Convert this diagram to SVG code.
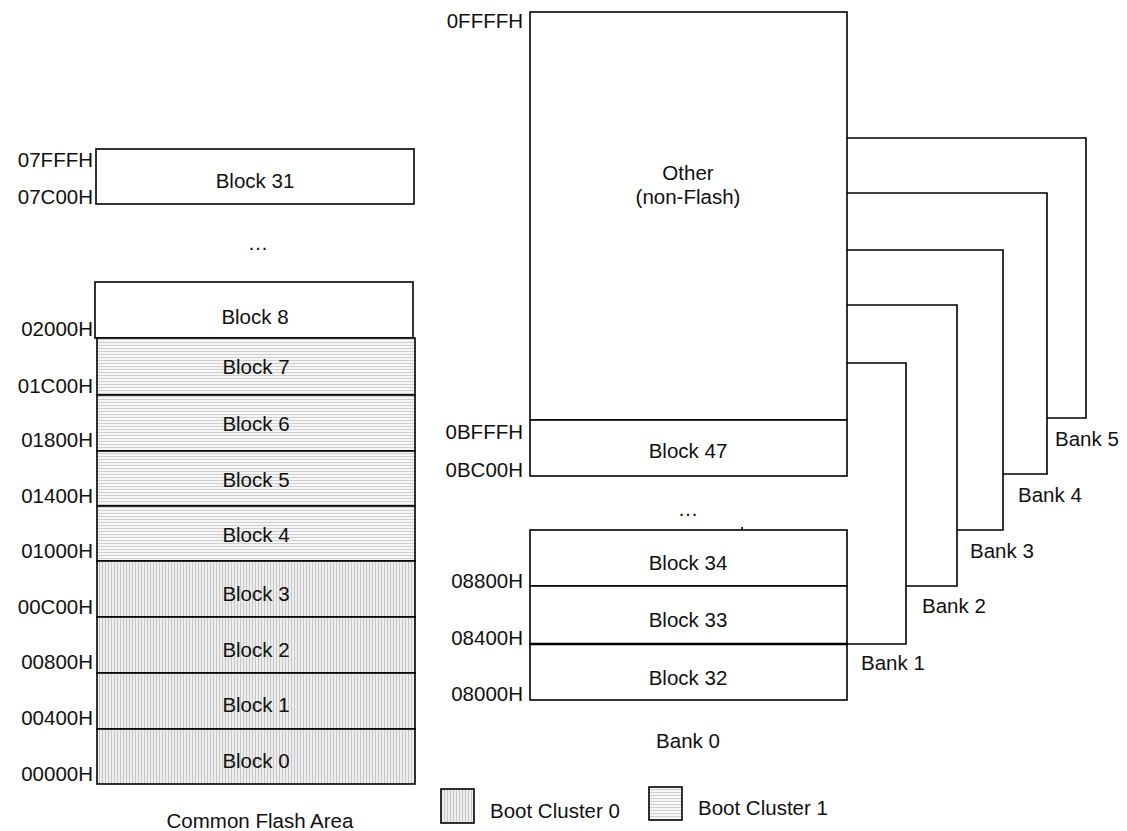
<svg xmlns="http://www.w3.org/2000/svg" width="1127" height="831" viewBox="0 0 1127 831">
<style>
text{font-family:"Liberation Sans",Arial,sans-serif;font-size:20.5px;fill:#111}
.c{text-anchor:middle}
.r{text-anchor:end}
.b{fill:#fff;stroke:#000;stroke-width:1.6}
.v{fill:url(#pv);stroke:#000;stroke-width:1.6}
.h{fill:url(#ph);stroke:#000;stroke-width:1.6}
.ln{fill:none;stroke:#000;stroke-width:1.6}
</style>
<defs>
<pattern id="pv" width="3" height="3" patternUnits="userSpaceOnUse">
<rect width="3" height="3" fill="#eeeeee"/>
<rect width="1" height="3" fill="#c6c6c6"/>
</pattern>
<pattern id="ph" width="3" height="3" patternUnits="userSpaceOnUse">
<rect width="3" height="3" fill="#f6f6f6"/>
<rect width="3" height="1" fill="#cecece"/>
</pattern>
</defs>

<g id="addr-left">
<text class="r" x="93" y="167">07FFFH</text>
<text class="r" x="93" y="204">07C00H</text>
<text class="r" x="93" y="336">02000H</text>
<text class="r" x="93" y="393">01C00H</text>
<text class="r" x="93" y="447">01800H</text>
<text class="r" x="93" y="503">01400H</text>
<text class="r" x="93" y="558">01000H</text>
<text class="r" x="93" y="614">00C00H</text>
<text class="r" x="93" y="669">00800H</text>
<text class="r" x="93" y="725">00400H</text>
<text class="r" x="93" y="781">00000H</text>
</g>

<g id="block31"><rect class="b" x="96" y="149" width="318" height="55"/><text class="c" x="255" y="188">Block 31</text></g>
<text class="c" x="258" y="250">…</text>
<g id="block8"><rect class="b" x="95" y="282" width="318" height="56"/><text class="c" x="255" y="324">Block 8</text></g>
<g id="block7"><rect class="h" x="97" y="338" width="318" height="57"/><text class="c" x="256" y="374">Block 7</text></g>
<g id="block6"><rect class="h" x="97" y="395" width="318" height="56"/><text class="c" x="256" y="431">Block 6</text></g>
<g id="block5"><rect class="h" x="97" y="451" width="318" height="55"/><text class="c" x="256" y="487">Block 5</text></g>
<g id="block4"><rect class="h" x="97" y="506" width="318" height="55"/><text class="c" x="256" y="542">Block 4</text></g>
<g id="block3"><rect class="v" x="97" y="561" width="318" height="56"/><text class="c" x="256" y="601">Block 3</text></g>
<g id="block2"><rect class="v" x="97" y="617" width="318" height="56"/><text class="c" x="256" y="657">Block 2</text></g>
<g id="block1"><rect class="v" x="97" y="673" width="318" height="56"/><text class="c" x="256" y="712">Block 1</text></g>
<g id="block0"><rect class="v" x="97" y="729" width="318" height="55"/><text class="c" x="256" y="768">Block 0</text></g>
<text class="c" x="260" y="828">Common Flash Area</text>

<g id="addr-right">
<text class="r" x="523" y="28">0FFFFH</text>
<text class="r" x="523" y="439">0BFFFH</text>
<text class="r" x="523" y="477">0BC00H</text>
<text class="r" x="523" y="588">08800H</text>
<text class="r" x="523" y="645">08400H</text>
<text class="r" x="523" y="701">08000H</text>
</g>

<g id="other"><rect class="b" x="530" y="12" width="317" height="408"/><text class="c" x="688" y="180">Other</text><text class="c" x="688" y="204">(non-Flash)</text></g>
<g id="block47"><rect class="b" x="530" y="420" width="317" height="56"/><text class="c" x="688" y="458">Block 47</text></g>
<text class="c" x="688" y="516">…</text>
<line class="ln" x1="742" y1="527" x2="742" y2="530"/>
<g id="block34"><rect class="b" x="530" y="530" width="317" height="56"/><text class="c" x="688" y="570">Block 34</text></g>
<g id="block33"><rect class="b" x="530" y="586" width="317" height="58"/><text class="c" x="688" y="627">Block 33</text></g>
<g id="block32"><rect class="b" x="530" y="644" width="317" height="56"/><text class="c" x="688" y="685">Block 32</text></g>
<line x1="530" y1="644" x2="847" y2="644" stroke="#000" stroke-width="2.4"/>
<text class="c" x="688" y="748">Bank 0</text>

<g id="connectors">
<polyline class="ln" points="847,138 1086,138 1086,418 1047,418"/>
<polyline class="ln" points="847,193 1047,193 1047,474 1003,474"/>
<polyline class="ln" points="847,250 1003,250 1003,530 957,530"/>
<polyline class="ln" points="847,305 957,305 957,586 906,586"/>
<polyline class="ln" points="847,363 906,363 906,644 847,644"/>
</g>

<g id="bank-labels">
<text x="1055" y="446">Bank 5</text>
<text x="1018" y="502">Bank 4</text>
<text x="970" y="558">Bank 3</text>
<text x="922" y="613">Bank 2</text>
<text x="861" y="670">Bank 1</text>
</g>

<g id="legend">
<rect class="v" x="441" y="789" width="33" height="34"/>
<text x="490" y="818">Boot Cluster 0</text>
<rect class="h" x="649" y="787" width="33" height="33"/>
<text x="698" y="815">Boot Cluster 1</text>
</g>
</svg>
